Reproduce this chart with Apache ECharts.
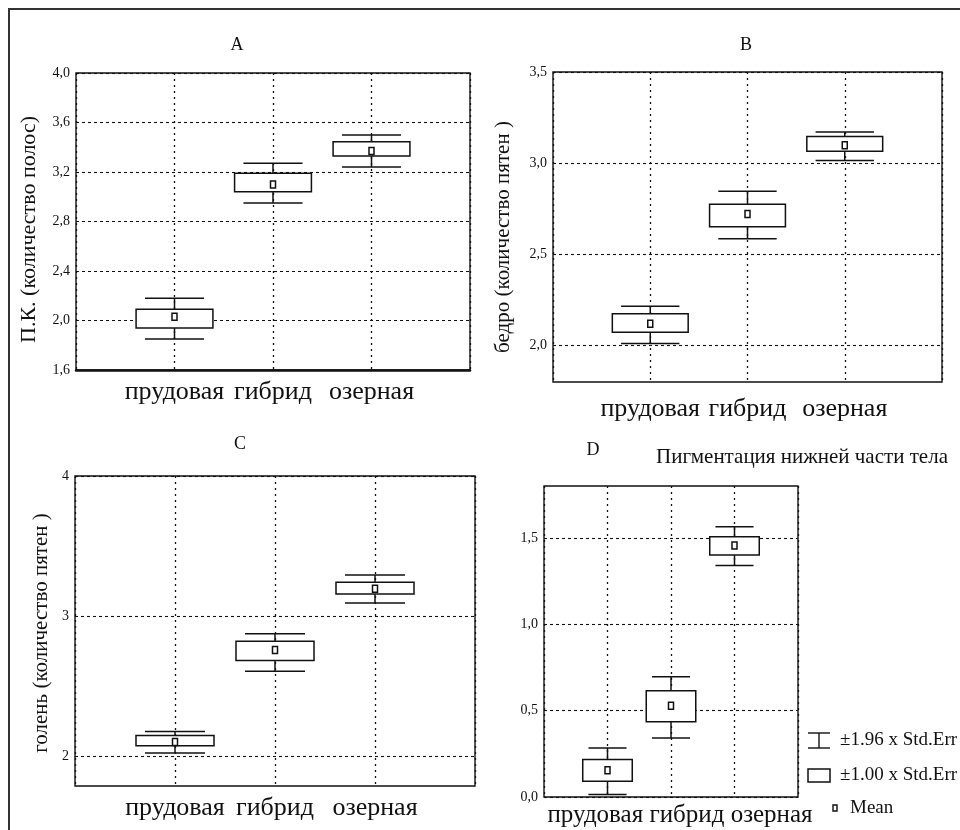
<!DOCTYPE html>
<html>
<head>
<meta charset="utf-8">
<script src="https://cdn.jsdelivr.net/npm/echarts@6/dist/echarts.min.js"></script>
<style>
html,body{margin:0;padding:0;background:#fff;}
#chart{width:960px;height:830px;}
</style>
</head>
<body>
<div id="chart"></div>
<script>
// categories
const categories = ['прудовая', 'гибрид', 'озерная'];
// each row: [whisker low (-1.96 SE), box low (-1 SE), mean, box high (+1 SE), whisker high (+1.96 SE)]
const panelA = [
  [1.85, 1.94, 2.03, 2.09, 2.18],
  [2.95, 3.04, 3.10, 3.19, 3.27],
  [3.24, 3.33, 3.37, 3.445, 3.50]
];
const panelB = [
  [2.007, 2.07, 2.116, 2.171, 2.213],
  [2.583, 2.65, 2.72, 2.773, 2.845],
  [3.014, 3.064, 3.097, 3.145, 3.17]
];
const panelC = [
  [2.025, 2.077, 2.103, 2.15, 2.179],
  [2.608, 2.684, 2.76, 2.822, 2.876],
  [3.095, 3.159, 3.196, 3.242, 3.294]
];
const panelD = [
  [0.014, 0.091, 0.155, 0.217, 0.284],
  [0.342, 0.435, 0.528, 0.615, 0.696],
  [1.34, 1.40, 1.456, 1.506, 1.564]
];
// tick labels
const ticksA = [1.6, 2.0, 2.4, 2.8, 3.2, 3.6, 4.0];
const ticksB = [2.0, 2.5, 3.0, 3.5];
const ticksC = [2, 3, 4];
const ticksD = [0.0, 0.5, 1.0, 1.5];
// axis ranges
const rangeA = [1.6, 4.0];
const rangeB = [1.796, 3.5];
const rangeC = [1.79, 4.0];
const rangeD = [0.0, 1.8];
// texts
const panelTitles = ['A', 'B', 'C', 'D'];
const yNames = ['П.К. (количество полос)', 'бедро (количество пятен )', 'голень (количество пятен )', ''];
const subtitleD = 'Пигментация нижней части тела';
const legendTexts = ['±1.96 x Std.Err', '±1.00 x Std.Err', 'Mean'];

const SERIF = '"Liberation Serif", "DejaVu Serif", serif';
const INK = '#111';

const panels = [
  {data: panelA, ticks: ticksA, range: rangeA, dec: 1, grid: {left: 76, top: 73, width: 394, height: 297}, nameGap: 36, nameSize: 22, namePad: [0, 16, 0, 0], labelMargin: 9, showX: true},
  {data: panelB, ticks: ticksB, range: rangeB, dec: 1, grid: {left: 553, top: 72, width: 389, height: 310}, nameGap: 39, nameSize: 21, namePad: [0, 20, 0, 0], labelMargin: 14, showX: true},
  {data: panelC, ticks: ticksC, range: rangeC, dec: 0, grid: {left: 75, top: 476, width: 400, height: 310}, nameGap: 23, nameSize: 21, namePad: [0, 4, 0, 0], labelMargin: 9, showX: true},
  {data: panelD, ticks: ticksD, range: rangeD, dec: 1, grid: {left: 544, top: 486, width: 254, height: 311}, nameGap: 30, nameSize: 21, namePad: 0, labelMargin: 10, showX: false}
];

function renderItem(params, api) {
  const xi = api.value(0);
  const slot = api.size([1, 0])[0];
  const bw = slot * 0.78, cw = slot * 0.6;
  const pt = (k) => api.coord([xi, api.value(k)]);
  const cx = pt(1)[0];
  const yWL = pt(1)[1], yBL = pt(2)[1], yM = pt(3)[1], yBH = pt(4)[1], yWH = pt(5)[1];
  const ls = {stroke: INK, lineWidth: 1.5};
  return {
    type: 'group',
    children: [
      {type: 'line', shape: {x1: cx, y1: yWL, x2: cx, y2: yBL}, style: ls},
      {type: 'line', shape: {x1: cx, y1: yBH, x2: cx, y2: yWH}, style: ls},
      {type: 'line', shape: {x1: cx - cw / 2, y1: yWL, x2: cx + cw / 2, y2: yWL}, style: ls},
      {type: 'line', shape: {x1: cx - cw / 2, y1: yWH, x2: cx + cw / 2, y2: yWH}, style: ls},
      {type: 'rect', shape: {x: cx - bw / 2, y: yBH, width: bw, height: yBL - yBH}, style: {fill: '#fff', stroke: INK, lineWidth: 1.5}},
      {type: 'rect', shape: {x: cx - 2.5, y: yM - 3.5, width: 5, height: 7}, style: {fill: '#fff', stroke: INK, lineWidth: 1.5}}
    ]
  };
}

const grids = [], xAxes = [], yAxes = [], series = [];
panels.forEach((p, i) => {
  grids.push(Object.assign({show: true, borderColor: INK, borderWidth: 1.4, backgroundColor: '#fff'}, p.grid));
  xAxes.push({
    gridIndex: i,
    type: 'category',
    boundaryGap: false,
    data: [''].concat(categories).concat(['']),
    axisLine: {show: i === 0, lineStyle: {color: INK, width: 2.5}},
    axisTick: {show: false},
    axisLabel: {show: p.showX, interval: 0, margin: p.labelMargin, fontFamily: SERIF, fontSize: 26, color: INK},
    splitLine: {show: true, lineStyle: {color: INK, width: 1.3, type: [2, 4]}}
  });
  yAxes.push({
    gridIndex: i,
    type: 'value',
    min: p.range[0],
    max: p.range[1],
    name: yNames[i],
    nameLocation: 'middle',
    nameGap: p.nameGap,
    nameRotate: 90,
    nameTextStyle: {fontFamily: SERIF, fontSize: p.nameSize, color: INK, padding: p.namePad},
    axisLine: {show: false},
    axisTick: {show: false, customValues: p.ticks},
    axisLabel: {
      customValues: p.ticks,
      margin: 6,
      fontFamily: SERIF, fontSize: 14, color: INK,
      formatter: (v) => Number(v).toFixed(p.dec).replace('.', ',')
    },
    splitLine: {show: true, lineStyle: {color: INK, width: 1.1, type: [3, 3]}}
  });
  series.push({
    type: 'custom',
    xAxisIndex: i,
    yAxisIndex: i,
    renderItem: renderItem,
    encode: {x: 0, y: [1, 2, 3, 4, 5]},
    data: p.data.map((r, k) => [k + 1].concat(r)),
    z: 5,
    silent: true
  });
});

function txt(text, x, y, size, align) {
  return {
    type: 'text', x: x, y: y, silent: true,
    style: {text: text, font: size + 'px ' + SERIF, fill: INK,
      align: align || 'center', verticalAlign: 'middle',
      textAlign: align || 'center', textVerticalAlign: 'middle'}
  };
}

const graphic = [
  {type: 'rect', shape: {x: 9, y: 9, width: 1000, height: 1000}, style: {fill: 'none', stroke: '#333', lineWidth: 2}, silent: true},
  txt(panelTitles[0], 237, 45, 18),
  txt(panelTitles[1], 746, 45, 18),
  txt(panelTitles[2], 240, 444, 18),
  txt(panelTitles[3], 593, 450, 18),
  txt(subtitleD, 802, 457, 21),
  txt(categories.join(' '), 680, 815, 25),
  // legend: whisker icon
  {type: 'line', shape: {x1: 808, y1: 733, x2: 830, y2: 733}, style: {stroke: INK, lineWidth: 1.4}},
  {type: 'line', shape: {x1: 819, y1: 733, x2: 819, y2: 748}, style: {stroke: INK, lineWidth: 1.4}},
  {type: 'line', shape: {x1: 808, y1: 748, x2: 830, y2: 748}, style: {stroke: INK, lineWidth: 1.4}},
  txt(legendTexts[0], 840, 740, 19, 'left'),
  // legend: box icon
  {type: 'rect', shape: {x: 808, y: 769, width: 22, height: 13}, style: {fill: '#fff', stroke: INK, lineWidth: 1.5}},
  txt(legendTexts[1], 840, 775, 19, 'left'),
  // legend: mean icon
  {type: 'rect', shape: {x: 833, y: 805, width: 4, height: 6}, style: {fill: '#fff', stroke: INK, lineWidth: 1.4}},
  txt(legendTexts[2], 850, 808, 19, 'left')
];

const chart = echarts.init(document.getElementById('chart'), null, {renderer: 'canvas'});
chart.setOption({
  backgroundColor: '#fff',
  animation: false,
  grid: grids,
  xAxis: xAxes,
  yAxis: yAxes,
  series: series,
  graphic: graphic
});
</script>
</body>
</html>
